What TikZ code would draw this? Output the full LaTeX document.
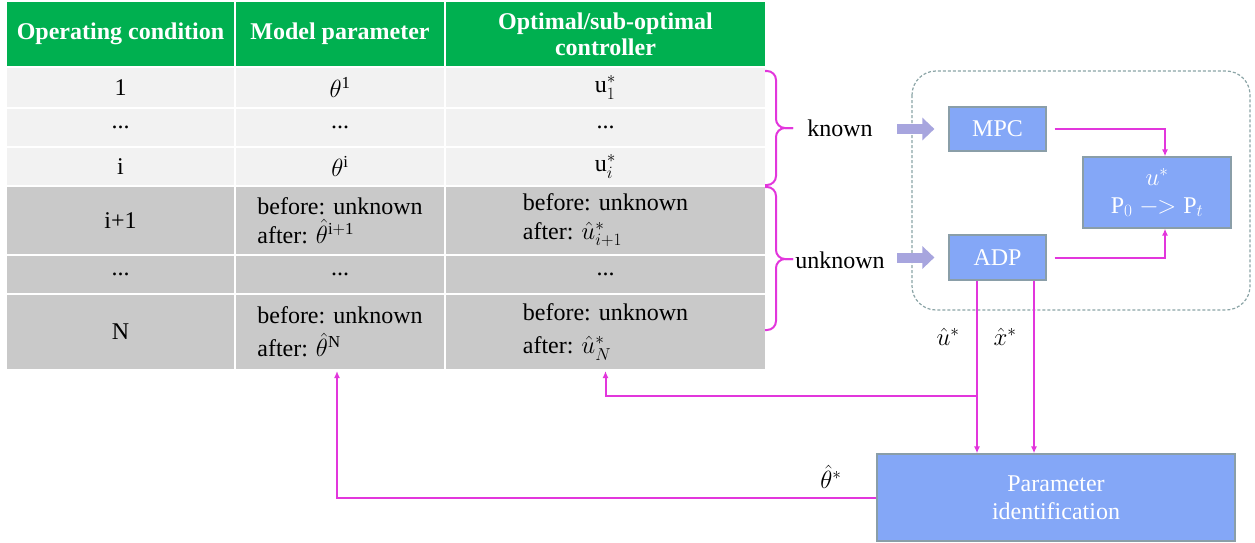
\documentclass[tikz,border=0pt]{standalone}
\usepackage{fontspec}
\setmainfont{Liberation Serif}
\usetikzlibrary{arrows.meta}
\definecolor{hdr}{HTML}{00B050}
\definecolor{lgt}{HTML}{F2F2F2}
\definecolor{drk}{HTML}{C9C9C9}
\definecolor{mag}{HTML}{E236DC}
\definecolor{boxb}{HTML}{84A7F7}
\definecolor{boxe}{HTML}{8A9EA8}
\definecolor{lav}{HTML}{A7A5DE}
\definecolor{dashc}{HTML}{8BA4A6}
\begin{document}
\begin{tikzpicture}[x=1pt,y=-1pt,
  big/.style={font=\fontsize{24}{28}\selectfont},
  cell/.style={big, inner sep=0pt, outer sep=0pt, align=center},
  hcell/.style={cell, fill=hdr, text=white, font=\fontsize{24}{26}\selectfont\bfseries},
  lcell/.style={cell, fill=lgt},
  dcell/.style={cell, fill=drk},
  twoA/.style={dcell, align=left, font=\fontsize{24}{29}\selectfont},
  twoB/.style={dcell, align=left, font=\fontsize{24}{33}\selectfont},
  blk/.style={big, fill=boxb, draw=boxe, line width=1.2pt, text=white, inner sep=0pt, align=center},
  link/.style={draw=mag, line width=2pt, -{Latex[length=7pt,width=6pt]}},
  bracestyle/.style={draw=mag, line width=2pt, rounded corners=9pt},
  fat/.style={draw=lav, line width=10pt, -{Triangle[length=12pt,width=22pt]}}
]
\useasboundingbox (0,0) rectangle (1255,543);

% ---- table ----
\node[hcell, minimum width=227pt, minimum height=64pt] (h1) at (120.5,34) {Operating condition};
\node[hcell, minimum width=208pt, minimum height=64pt] (h2) at (340,34) {Model parameter};
\node[hcell, minimum width=319pt, minimum height=64pt] (h3) at (605.5,34) {Optimal/sub-optimal\\controller};

\node[lcell, minimum width=227pt, minimum height=39pt] (r1c1) at (120.5,87.5) {1};
\node[lcell, minimum width=208pt, minimum height=39pt] (r1c2) at (340,87.5) {$\theta^{\mathrm{1}}$};
\node[lcell, minimum width=319pt, minimum height=39pt] (r1c3) at (605.5,87.5) {$\mathrm{u}_1^*$};

\node[lcell, minimum width=227pt, minimum height=37pt] (r2c1) at (120.5,127.5) {...};
\node[lcell, minimum width=208pt, minimum height=37pt] (r2c2) at (340,127.5) {...};
\node[lcell, minimum width=319pt, minimum height=37pt] (r2c3) at (605.5,127.5) {...};

\node[lcell, minimum width=227pt, minimum height=37pt] (r3c1) at (120.5,166.5) {i};
\node[lcell, minimum width=208pt, minimum height=37pt] (r3c2) at (340,166.5) {$\theta^{\mathrm{i}}$};
\node[lcell, minimum width=319pt, minimum height=37pt] (r3c3) at (605.5,166.5) {$\mathrm{u}_i^*$};

\node[dcell, minimum width=227pt, minimum height=67pt] (r4c1) at (120.5,220.5) {i+1};
\node[twoA, minimum width=208pt, minimum height=67pt] (r4c2) at (340,220.5) {before: unknown\\after: $\hat{\theta}^{\mathrm{i+1}}$};
\node[twoA, minimum width=319pt, minimum height=67pt] (r4c3) at (605.5,220.5) {before: unknown\\after: $\hat{u}_{i+1}^*$};

\node[dcell, minimum width=227pt, minimum height=37pt] (r5c1) at (120.5,274.5) {...};
\node[dcell, minimum width=208pt, minimum height=37pt] (r5c2) at (340,274.5) {...};
\node[dcell, minimum width=319pt, minimum height=37pt] (r5c3) at (605.5,274.5) {...};

\node[dcell, minimum width=227pt, minimum height=74pt] (r6c1) at (120.5,332) {N};
\node[twoB, minimum width=208pt, minimum height=74pt] (r6c2) at (340,332) {before: unknown\\after: $\hat{\theta}^{\mathrm{N}}$};
\node[twoB, minimum width=319pt, minimum height=74pt] (r6c3) at (605.5,332) {before: unknown\\after: $\hat{u}_N^*$};

% ---- braces and labels ----
\draw[bracestyle] (765,71) -| (776,128) -- (793,128);
\draw[bracestyle] (765,185) -| (776,128) -- (793,128);
\draw[bracestyle] (765,187) -| (776,259) -- (793,259);
\draw[bracestyle] (765,330) -| (776,259) -- (793,259);
\node[big, inner sep=0pt] (known) at (840,128) {known};
\node[big, inner sep=0pt] (unknown) at (840,260) {unknown};

% ---- dashed container ----
\draw[dashc, dash pattern=on 3pt off 2pt, line width=1.2pt, rounded corners=24pt] (912,71) rectangle (1250,310);

% ---- blocks ----
\node[blk, minimum width=97pt, minimum height=44pt] (mpc) at (997.5,129) {MPC};
\node[blk, minimum width=97pt, minimum height=45pt] (adp) at (997.5,257.5) {ADP};
\node[blk, minimum width=148pt, minimum height=71pt, font=\fontsize{24}{28}\selectfont] (ubox) at (1157,192.5) {$u^*$\\$\mathrm{P}_0 \mathrel{-\!\!>} \mathrm{P}_t$};
\node[blk, minimum width=358pt, minimum height=87pt] (pid) at (1056,497.5) {Parameter\\identification};

% ---- fat arrows ----
\draw[fat] ([xshift=-51pt]mpc.west) -- ([xshift=-14pt]mpc.west);
\draw[fat] ([xshift=-51pt]adp.west) -- ([xshift=-14pt]adp.west);

% ---- magenta links ----
\draw[link] ([xshift=8pt]mpc.east) -| ([xshift=8pt]ubox.north);
\draw[link] ([xshift=8pt]adp.east) -| ([xshift=8pt]ubox.south);

\coordinate (ua) at ([xshift=-20.5pt]adp.south);
\coordinate (xa) at ([xshift=36.5pt]adp.south);
\draw[link] (ua) -- (ua |- pid.north);
\draw[link] (xa) -- (xa |- pid.north);
\path (ua) ++(0,115) coordinate (br);
\draw[link, shorten >=2pt] (br) -| (r6c3.south);
\draw[link, shorten >=2pt] (pid.west) -| ([xshift=-3pt]r6c2.south);

\node[big] (lu) at (948,337) {$\hat{u}^*$};
\node[big] (lx) at (1005,337) {$\hat{x}^*$};
\node[big] (lt) at (831,477) {$\hat{\theta}^*$};
\end{tikzpicture}
\end{document}
